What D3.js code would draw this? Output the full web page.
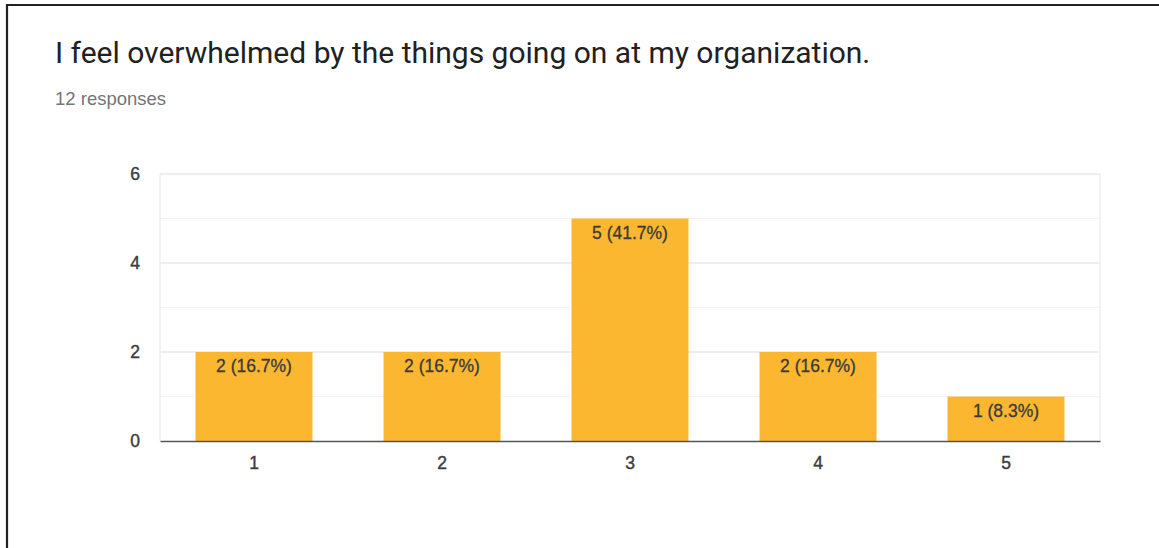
<!DOCTYPE html>
<html>
<head>
<meta charset="utf-8">
<script src="https://cdn.jsdelivr.net/npm/d3@7"></script>
<style>
  html, body { margin: 0; padding: 0; background: #fff; }
  svg { display: block; }
</style>
</head>
<body>
<svg id="chart" width="1159" height="548"></svg>
<script>
// Survey answers: rating 1–5, number of responses each
const categories = ["1", "2", "3", "4", "5"];
const counts = [2, 2, 5, 2, 1];
const percents = ["16.7%", "16.7%", "41.7%", "16.7%", "8.3%"];
const yTicks = [0, 2, 4, 6];
const title = "I feel overwhelmed by the things going on at my organization.";
const subtitle = "12 responses";

const svg = d3.select("#chart");
const W = 1159, H = 548;
const titleFont = "Roboto, 'Open Sans', Arial, sans-serif";
const chartFont = "'Liberation Sans', Arial, Helvetica, sans-serif";

// card border (left and top edges)
svg.append("path")
  .attr("d", `M7,${H} L7,5 L${W},5`)
  .attr("fill", "none")
  .attr("stroke", "#222")
  .attr("stroke-width", 2.2);

svg.append("text")
  .attr("x", 55).attr("y", 63)
  .attr("font-family", titleFont)
  .attr("font-size", 30)
  .attr("fill", "#212121")
  .text(title);

svg.append("text")
  .attr("x", 55).attr("y", 105)
  .attr("font-family", chartFont)
  .attr("font-size", 18.5)
  .attr("fill", "#757575")
  .text(subtitle);

const plot = { left: 160, right: 1100, top: 174, bottom: 441 };

const x = d3.scaleBand()
  .domain(categories)
  .range([plot.left, plot.right])
  .paddingInner(0.378)
  .paddingOuter(0.189);

const y = d3.scaleLinear()
  .domain([0, 6])
  .range([plot.bottom, plot.top]);

// minor gridlines at odd values
svg.append("g")
  .selectAll("line")
  .data(d3.range(1, 6, 2))
  .join("line")
  .attr("x1", plot.left).attr("x2", plot.right)
  .attr("y1", d => y(d)).attr("y2", d => y(d))
  .attr("stroke", "#f3f3f3").attr("stroke-width", 1.2);

// major gridlines
svg.append("g")
  .selectAll("line")
  .data(yTicks.filter(d => d > 0))
  .join("line")
  .attr("x1", plot.left).attr("x2", plot.right)
  .attr("y1", d => y(d)).attr("y2", d => y(d))
  .attr("stroke", "#e8e8e8").attr("stroke-width", 1.4);

// vertical frame edges
svg.append("g")
  .selectAll("line")
  .data([plot.left, plot.right])
  .join("line")
  .attr("x1", d => d).attr("x2", d => d)
  .attr("y1", plot.top).attr("y2", plot.bottom)
  .attr("stroke", "#eeeeee").attr("stroke-width", 1.4);

// y axis labels
const yAxis = d3.axisLeft(y).tickValues(yTicks).tickFormat(d3.format("d"))
  .tickSize(0).tickPadding(20);
const gy = svg.append("g")
  .attr("transform", `translate(${plot.left},0)`)
  .call(yAxis);
gy.select(".domain").remove();
gy.selectAll("text")
  .attr("font-family", chartFont)
  .attr("font-size", 17.5)
  .attr("fill", "#3c3c3c")
  .attr("stroke", "#3c3c3c")
  .attr("stroke-width", 0.4);

// bars
svg.append("g")
  .selectAll("rect")
  .data(categories)
  .join("rect")
  .attr("x", d => x(d))
  .attr("width", x.bandwidth())
  .attr("y", (d, i) => y(counts[i]))
  .attr("height", (d, i) => y(0) - y(counts[i]))
  .attr("fill", "#fbb72f");

// value labels inside bars
svg.append("g")
  .selectAll("text")
  .data(categories)
  .join("text")
  .attr("x", d => x(d) + x.bandwidth() / 2)
  .attr("y", (d, i) => y(counts[i]) + 20)
  .attr("text-anchor", "middle")
  .attr("font-family", chartFont)
  .attr("font-size", 17.5)
  .attr("fill", "#3a3a3a")
  .attr("stroke", "#3a3a3a")
  .attr("stroke-width", 0.3)
  .text((d, i) => `${counts[i]} (${percents[i]})`);

// x axis baseline and labels
const xAxis = d3.axisBottom(x).tickSize(0).tickPadding(16);
const gx = svg.append("g")
  .attr("transform", `translate(0,${plot.bottom})`)
  .call(xAxis);
gx.select(".domain")
  .attr("stroke", "#555")
  .attr("stroke-width", 1.6);
gx.selectAll("text")
  .attr("font-family", chartFont)
  .attr("font-size", 17.5)
  .attr("fill", "#3c3c3c")
  .attr("stroke", "#3c3c3c")
  .attr("stroke-width", 0.4);
</script>
</body>
</html>
